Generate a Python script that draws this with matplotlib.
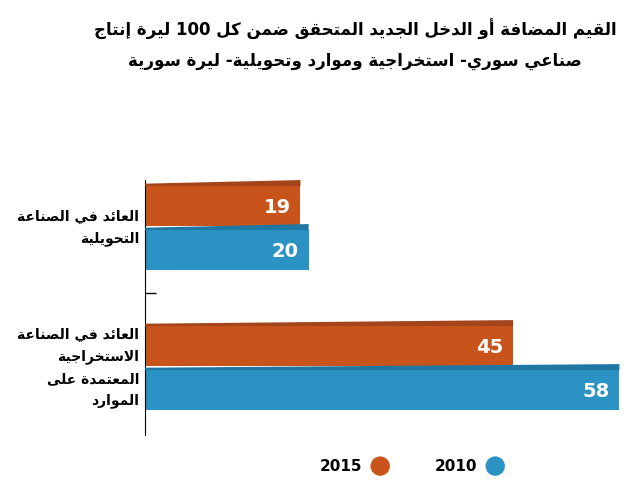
import matplotlib
matplotlib.use("Agg")
import matplotlib.pyplot as plt
from matplotlib.patches import Polygon, Circle

# --- minimal Arabic shaping (matplotlib has no bidi/shaping) ---
FORMS = {  # iso, fin, ini, med (None = right-joining only)
    'ا': (0xFE8D, 0xFE8E, None, None), 'أ': (0xFE83, 0xFE84, None, None),
    'إ': (0xFE87, 0xFE88, None, None), 'آ': (0xFE81, 0xFE82, None, None),
    'ب': (0xFE8F, 0xFE90, 0xFE91, 0xFE92), 'ة': (0xFE93, 0xFE94, None, None),
    'ت': (0xFE95, 0xFE96, 0xFE97, 0xFE98), 'ث': (0xFE99, 0xFE9A, 0xFE9B, 0xFE9C),
    'ج': (0xFE9D, 0xFE9E, 0xFE9F, 0xFEA0), 'ح': (0xFEA1, 0xFEA2, 0xFEA3, 0xFEA4),
    'خ': (0xFEA5, 0xFEA6, 0xFEA7, 0xFEA8), 'د': (0xFEA9, 0xFEAA, None, None),
    'ذ': (0xFEAB, 0xFEAC, None, None), 'ر': (0xFEAD, 0xFEAE, None, None),
    'ز': (0xFEAF, 0xFEB0, None, None), 'س': (0xFEB1, 0xFEB2, 0xFEB3, 0xFEB4),
    'ش': (0xFEB5, 0xFEB6, 0xFEB7, 0xFEB8), 'ص': (0xFEB9, 0xFEBA, 0xFEBB, 0xFEBC),
    'ض': (0xFEBD, 0xFEBE, 0xFEBF, 0xFEC0), 'ط': (0xFEC1, 0xFEC2, 0xFEC3, 0xFEC4),
    'ظ': (0xFEC5, 0xFEC6, 0xFEC7, 0xFEC8), 'ع': (0xFEC9, 0xFECA, 0xFECB, 0xFECC),
    'غ': (0xFECD, 0xFECE, 0xFECF, 0xFED0), 'ف': (0xFED1, 0xFED2, 0xFED3, 0xFED4),
    'ق': (0xFED5, 0xFED6, 0xFED7, 0xFED8), 'ك': (0xFED9, 0xFEDA, 0xFEDB, 0xFEDC),
    'ل': (0xFEDD, 0xFEDE, 0xFEDF, 0xFEE0), 'م': (0xFEE1, 0xFEE2, 0xFEE3, 0xFEE4),
    'ن': (0xFEE5, 0xFEE6, 0xFEE7, 0xFEE8), 'ه': (0xFEE9, 0xFEEA, 0xFEEB, 0xFEEC),
    'و': (0xFEED, 0xFEEE, None, None), 'ى': (0xFEEF, 0xFEF0, None, None),
    'ي': (0xFEF1, 0xFEF2, 0xFEF3, 0xFEF4), 'ئ': (0xFE89, 0xFE8A, 0xFE8B, 0xFE8C),
    'ؤ': (0xFE85, 0xFE86, None, None),
}
LAMALEF = {'ا': (0xFEFB, 0xFEFC), 'أ': (0xFEF7, 0xFEF8),
           'إ': (0xFEF9, 0xFEFA), 'آ': (0xFEF5, 0xFEF6)}


def shape(text):
    chars = list(text)
    out = []
    i = 0
    n = len(chars)

    def joins_left(c):  # can connect to following letter
        return c in FORMS and FORMS[c][2] is not None

    while i < n:
        c = chars[i]
        if c not in FORMS:
            out.append(c)
            i += 1
            continue
        prev = chars[i - 1] if i > 0 else ''
        linked_prev = joins_left(prev)
        if c == 'ل' and i + 1 < n and chars[i + 1] in LAMALEF:
            iso, fin = LAMALEF[chars[i + 1]]
            out.append(chr(fin if linked_prev else iso))
            i += 2
            continue
        nxt = chars[i + 1] if i + 1 < n else ''
        linked_next = joins_left(c) and nxt in FORMS
        iso, fin, ini, med = FORMS[c]
        if linked_prev and linked_next:
            f = med
        elif linked_prev:
            f = fin
        elif linked_next:
            f = ini
        else:
            f = iso
        out.append(chr(f))
        i += 1
    # visual order: reverse, keep digit runs left-to-right
    s = ''.join(out)[::-1]
    res, run = [], ''
    for ch in s:
        if ch.isdigit():
            run += ch
        else:
            if run:
                res.append(run[::-1])
                run = ''
            res.append(ch)
    if run:
        res.append(run[::-1])
    return ''.join(res)


def ar(text):
    return '\n'.join(shape(line) for line in text.split('\n'))


# --- data ---
categories = ["العائد في الصناعة\nالتحويلية",
              "العائد في الصناعة\nالاستخراجية\nالمعتمدة على\nالموارد"]
values_2015 = [19, 45]
values_2010 = [20, 58]
title_lines = ["القيم المضافة أو الدخل الجديد المتحقق ضمن كل 100 ليرة إنتاج",
               "صناعي سوري- استخراجية وموارد وتحويلية- ليرة سورية"]

orange, orange_top = '#C8541C', '#A4441A'
blue, blue_top = '#2A93C3', '#1F78A3'

plt.rcParams['font.family'] = ['DejaVu Sans']
fig = plt.figure(figsize=(6.39, 4.84), dpi=100)
ax = fig.add_axes([0.227, 0.101, 0.768, 0.527])
ax.set_xlim(0, 60)
ax.set_ylim(435, 180)

centers = [228, 368]
h = 44
depth = 6  # y extent of slanted top face
for k, c in enumerate(centers):
    for val, y, col, top in [(values_2015[k], c - h / 2, orange, orange_top),
                             (values_2010[k], c + h / 2, blue, blue_top)]:
        ax.barh(y, val, height=h - 4, color=col, zorder=2)
        ytop = y - (h - 4) / 2
        ax.add_patch(Polygon([(0, ytop), (val, ytop), (val, ytop - depth),
                              (0, ytop - depth * 0.4)], closed=True,
                             facecolor=top, edgecolor='none', zorder=3))
        ax.text(val - 1.2, y + 1, str(val), color='white', fontsize=14,
                fontweight='bold', ha='right', va='center', zorder=4)

for s in ['top', 'right', 'bottom']:
    ax.spines[s].set_visible(False)
ax.spines['left'].set_color('black')
ax.set_xticks([])
ax.set_yticks([293])
ax.set_yticklabels([''])
ax.tick_params(axis='y', length=8, width=1, direction='in')

for k, c in enumerate(centers):
    ax.text(-0.7, c, ar(categories[k]), ha='right',
            va='center', fontsize=10, fontweight='bold', linespacing=1.7)

fig.text(0.556, 0.94, ar(title_lines[0]), ha='center', va='center',
         fontsize=12, fontweight='bold')
fig.text(0.556, 0.875, ar(title_lines[1]), ha='center', va='center',
         fontsize=12, fontweight='bold')

# legend
for cx, col, lab in [(0.595, orange, '2015'), (0.775, blue, '2010')]:
    fig.patches.append(Circle((cx * 639, 0.037 * 484), 9, color=col,
                              transform=None, figure=fig))
    fig.text(cx - 0.028, 0.037, lab, ha='right', va='center', fontsize=11,
             fontweight='bold')

fig.savefig('out.png', dpi=100)
